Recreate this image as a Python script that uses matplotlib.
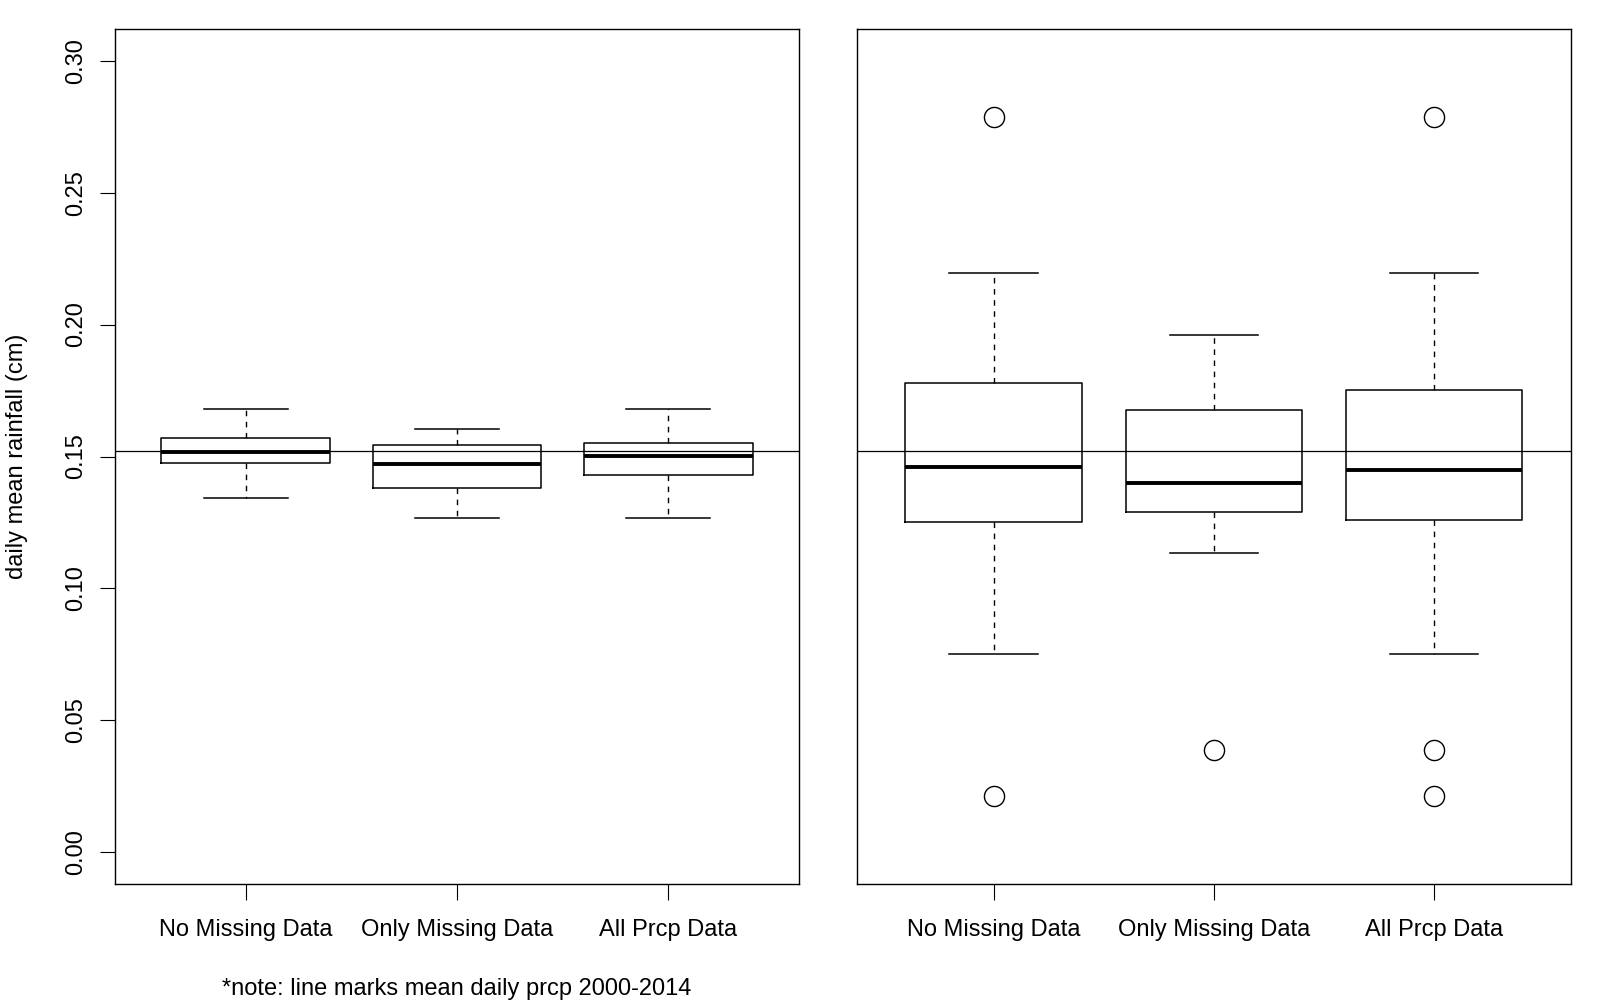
import matplotlib.pyplot as plt

plt.rcParams['font.family'] = ['Liberation Sans', 'DejaVu Sans']

groups = ['No Missing Data', 'Only Missing Data', 'All Prcp Data']
mean_prcp = 0.1521

# left panel: annual means
left_lo = [0.1344, 0.1268, 0.1268]
left_q1 = [0.1476, 0.1382, 0.1431]
left_med = [0.1518, 0.1472, 0.1503]
left_q3 = [0.1571, 0.1544, 0.1552]
left_hi = [0.1680, 0.1605, 0.1680]
left_out = [[], [], []]

# right panel: monthly means
right_lo = [0.0752, 0.1136, 0.0752]
right_q1 = [0.1253, 0.1291, 0.1261]
right_med = [0.1460, 0.1401, 0.1450]
right_q3 = [0.1778, 0.1676, 0.1752]
right_hi = [0.2194, 0.1960, 0.2194]
right_out = [[0.2786, 0.0215], [0.0389], [0.2786, 0.0389, 0.0215]]


def make_stats(lo, q1, med, q3, hi, out):
    stats = []
    for i in range(len(groups)):
        stats.append({'whislo': lo[i], 'q1': q1[i], 'med': med[i], 'q3': q3[i],
                      'whishi': hi[i], 'fliers': out[i], 'label': groups[i]})
    return stats


fig = plt.figure(figsize=(16, 10), dpi=100)
ax1 = fig.add_axes([0.0719, 0.116, 0.4275, 0.855])
ax2 = fig.add_axes([0.5356, 0.116, 0.446, 0.855])

panels = [(ax1, make_stats(left_lo, left_q1, left_med, left_q3, left_hi, left_out)),
          (ax2, make_stats(right_lo, right_q1, right_med, right_q3, right_hi, right_out))]

for ax, stats in panels:
    ax.bxp(stats, positions=[1, 2, 3], widths=0.8, capwidths=0.4,
           boxprops=dict(color='black', linewidth=1.1),
           medianprops=dict(color='black', linewidth=2.8, solid_capstyle='butt'),
           whiskerprops=dict(color='black', linewidth=1.0, linestyle=(0, (4, 4))),
           capprops=dict(color='black', linewidth=1.1),
           flierprops=dict(marker='o', markersize=14.5, markerfacecolor='none',
                           markeredgecolor='black', markeredgewidth=1.0))
    ax.axhline(mean_prcp, color='black', linewidth=0.9)
    ax.set_xlim(0.38, 3.62)
    ax.set_ylim(-0.012, 0.312)
    ax.tick_params(axis='x', length=11.5, width=0.8, labelsize=17, pad=14)
    for s in ax.spines.values():
        s.set_linewidth(1.0)

ax1.set_yticks([0.00, 0.05, 0.10, 0.15, 0.20, 0.25, 0.30])
ax1.set_yticklabels(['0.00', '0.05', '0.10', '0.15', '0.20', '0.25', '0.30'],
                    rotation=90, va='center')
ax1.tick_params(axis='y', length=11, width=0.8, labelsize=17, pad=9)
ax2.set_yticks([])

fig.text(17.3 / 1600, 0.5435, 'daily mean rainfall (cm)', rotation=90,
         ha='center', va='center', fontsize=17)
fig.text(457 / 1600, 0.011, '*note: line marks mean daily prcp 2000-2014',
         ha='center', va='center', fontsize=17)

fig.savefig('out.png', dpi=100)
